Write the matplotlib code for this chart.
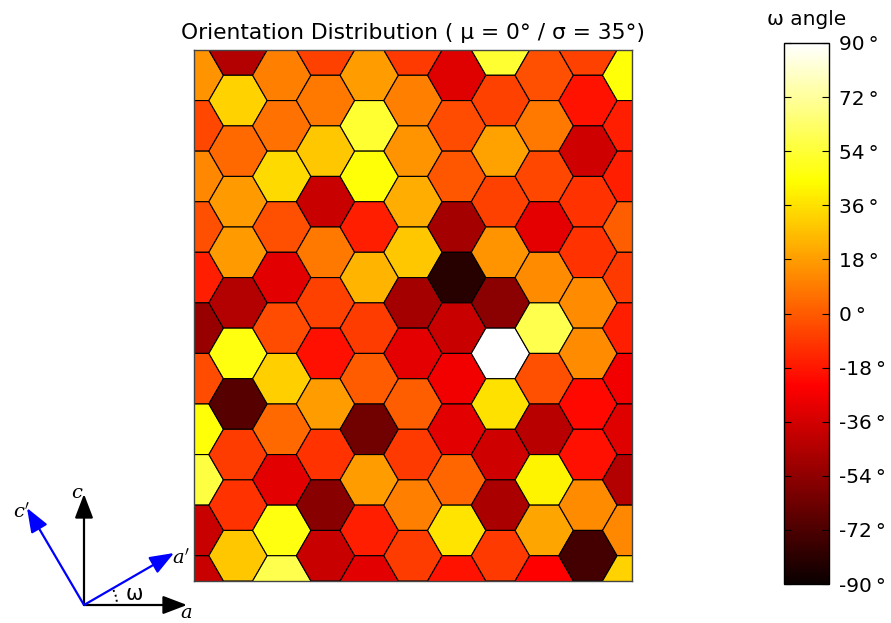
import numpy as np
import matplotlib
matplotlib.use("Agg")
import matplotlib.pyplot as plt
from matplotlib.collections import PolyCollection
from matplotlib.patches import Arc

plt.rcParams["mathtext.fontset"] = "dejavuserif"

# omega angle (deg) per hexagon, one list per column, listed top to bottom
col0 = [15, -5, 12, -3, -16, -52, -4, 45, 56, -39, -39]
col1 = [-45, 32, 4, 17, 17, -45, 47, -69, -8, -11, 29]
col2 = [10, 6, 34, -3, -32, -4, 31, 4, -32, 47, 58]
col3 = [-7, 8, 29, -39, 8, -7, -20, 18, -11, -56, -39]
col4 = [18, 53, 45, -16, 24, -8, 0, -62, 18, -16, -32]
col5 = [-9, 10, 15, 22, 29, -48, -31, 1, -9, 10, -8]
col6 = [-33, -4, -1, -48, -82, -39, -28, -32, 3, 37, -19]
col7 = [53, -7, 19, -7, 15, -55, 90, 36, -37, -47, -9]
col8 = [-3, 8, -5, -31, 13, 58, -3, -43, 41, 20, -24]
col9 = [-7, -19, -37, -11, -11, 13, 13, -22, -20, 13, -74]
col10 = [45, -16, -16, 1, -9, -16, -28, -33, -45, 12, 32]
columns = [col0, col1, col2, col3, col4, col5, col6, col7, col8, col9, col10]

cbar_ticks = [-90, -72, -54, -36, -18, 0, 18, 36, 54, 72, 90]
title = "Orientation Distribution ( μ = 0° / σ = 35°)"

# hexagon geometry (flat-topped, radius 1)
R = 1.0
h = np.sqrt(3) * R
H = 10.5 * h
ang = np.deg2rad(np.arange(0, 360, 60))
hx, hy = R * np.cos(ang), R * np.sin(ang)

polys, vals = [], []
for k, col in enumerate(columns):
    x0 = 1.5 * R * k
    for n, v in enumerate(col):
        y0 = H - n * h if k % 2 else H - h / 2 - n * h
        polys.append(np.column_stack([x0 + hx, y0 + hy]))
        vals.append(v)

fig = plt.figure(figsize=(8.91, 6.23), dpi=100)

ax = fig.add_axes([194.3 / 891, 1 - 581 / 623, 437.4 / 891, 531 / 623])
pc = PolyCollection(polys, array=np.array(vals), cmap="hot",
                    edgecolors="black", linewidths=0.8)
pc.set_clim(-90, 90)
ax.add_collection(pc)
ax.set_xlim(0, 15 * R)
ax.set_ylim(0, H)
ax.set_xticks([])
ax.set_yticks([])
for s in ax.spines.values():
    s.set_color("#444444")
    s.set_linewidth(1.0)
ax.set_title(title, fontsize=15.7, pad=8)

# colorbar
cax = fig.add_axes([784 / 891, 1 - 584 / 623, 45 / 891, 541 / 623])
cb = fig.colorbar(pc, cax=cax, ticks=cbar_ticks)
cb.ax.set_yticklabels([f"{t}\u2009°" for t in cbar_ticks])
cb.ax.tick_params(direction="in", left=True, right=True, length=5,
                  width=0.8, labelsize=14.5, pad=7)
cb.outline.set_linewidth(1.0)
cax.text(0.5, 1.025, "ω angle", transform=cax.transAxes, ha="center",
         va="bottom", fontsize=14.5)

# orientation sketch in the bottom-left corner (pixel coordinates)
ov = fig.add_axes([0, 0, 1, 1], facecolor="none")
ov.set_xlim(0, 891)
ov.set_ylim(623, 0)
ov.axis("off")

ox, oy = 84, 605
arrows = [((187, 605), "black"), ((84, 494), "black"),
          ((174, 553), "blue"), ((27, 508), "blue")]
for (tx, ty), c in arrows:
    ov.annotate("", xy=(tx, ty), xytext=(ox, oy),
                arrowprops=dict(arrowstyle="-|>,head_length=1.05,head_width=0.4",
                                mutation_scale=14, color=c, lw=1.6,
                                shrinkA=0, shrinkB=0))
ov.add_patch(Arc((ox, oy), 66, 66, theta1=-27, theta2=0, ls=":", lw=1.4,
                 color="black"))
ov.text(134, 594, "ω", fontsize=15, ha="center", va="center")
ov.text(186, 612, r"$a$", fontsize=14, ha="center", va="center")
ov.text(77, 493, r"$c$", fontsize=14, ha="center", va="center")
ov.text(181, 558, r"$a'$", fontsize=14, ha="center", va="center")
ov.text(22, 512, r"$c'$", fontsize=14, ha="center", va="center")

fig.savefig("out.png", dpi=100)
